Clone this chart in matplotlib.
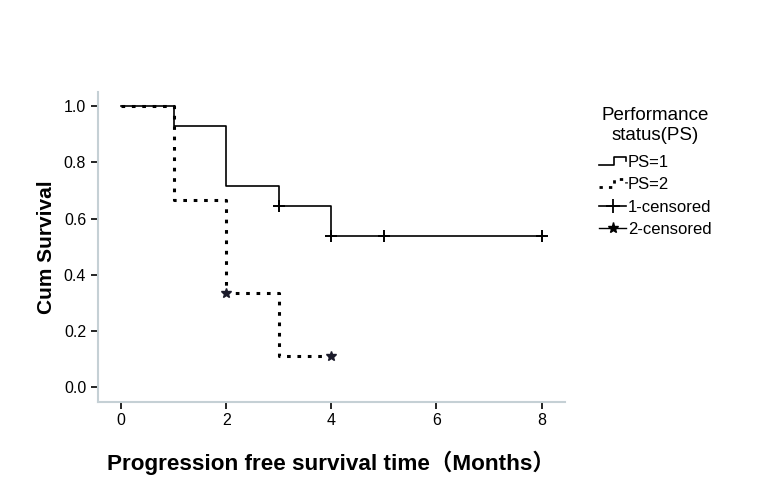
import matplotlib
matplotlib.use("Agg")
import matplotlib.pyplot as plt
from matplotlib.lines import Line2D
from matplotlib.legend_handler import HandlerBase

plt.rcParams['font.family'] = ['Liberation Sans', 'DejaVu Sans']

# Kaplan-Meier estimates
ps1_time = [0, 1, 2, 3, 4, 8]
ps1_surv = [1.0, 0.929, 0.714, 0.643, 0.536, 0.536]
ps1_cens_time = [3, 4, 5, 8]
ps1_cens_surv = [0.643, 0.536, 0.536, 0.536]

ps2_time = [0, 1, 2, 3, 4]
ps2_surv = [1.0, 0.667, 0.333, 0.111, 0.111]
ps2_cens_time = [2, 4]
ps2_cens_surv = [0.333, 0.111]

x_ticks = [0, 2, 4, 6, 8]
y_ticks = [0.0, 0.2, 0.4, 0.6, 0.8, 1.0]

dots = (0, (1.2, 2.2))


class StepHandler(HandlerBase):
    # little step-shaped legend key, like the SPSS one
    def __init__(self, ls, lw):
        super().__init__()
        self.ls = ls
        self.lw = lw

    def create_artists(self, legend, orig_handle, xdescent, ydescent,
                       width, height, fontsize, trans):
        x0 = -xdescent
        y0 = -ydescent
        xs = [x0, x0 + 0.55 * width, x0 + 0.55 * width, x0 + width,
              x0 + width]
        ys = [y0 + 0.15 * height, y0 + 0.15 * height, y0 + 0.85 * height,
              y0 + 0.85 * height, y0 + 0.5 * height]
        line = Line2D(xs, ys, color='black', lw=self.lw, ls=self.ls,
                      transform=trans)
        return [line]


fig = plt.figure(figsize=(7.6, 4.98), dpi=100)
ax = fig.add_axes([0.129, 0.193, 0.614, 0.622])

ax.step(ps1_time, ps1_surv, where='post', color='black', lw=1.2)
ax.step(ps2_time, ps2_surv, where='post', color='black', lw=2.2, ls=dots)
ax.plot(ps1_cens_time, ps1_cens_surv, ls='none', marker='+', ms=9,
        mew=1.4, color='black')
ax.plot(ps2_cens_time, ps2_cens_surv, ls='none', marker='*', ms=7,
        color='#1a1a2a')

ax.set_xlim(-0.44, 8.44)
ax.set_ylim(-0.053, 1.05)
ax.set_xticks(x_ticks)
ax.set_yticks(y_ticks)
ax.set_yticklabels([f'{v:.1f}' for v in y_ticks])
ax.tick_params(axis='both', direction='out', length=5, width=1.2,
               colors='black', labelsize=11.5)
ax.tick_params(axis='x', pad=3)

for side in ['top', 'right']:
    ax.spines[side].set_visible(False)
for side in ['left', 'bottom']:
    ax.spines[side].set_color('#c5d0d5')
    ax.spines[side].set_linewidth(1.5)

ax.set_ylabel('Cum Survival', fontsize=15, fontweight='bold', labelpad=6)
ax.set_xlabel('Progression free survival time\uff08Months\uff09',
              fontsize=16.2, fontweight='bold', labelpad=16,
              family=['Liberation Sans', 'Noto Sans CJK SC'])

ps1_key = Line2D([], [])
ps2_key = Line2D([], [])
handles = [
    ps1_key,
    ps2_key,
    Line2D([], [], color='black', lw=1.2, marker='+', ms=10, mew=1.3),
    Line2D([], [], color='black', lw=1.0, marker='*', ms=8),
]
labels = ['PS=1', 'PS=2', '1-censored', '2-censored']
leg = fig.legend(handles, labels, title='Performance\nstatus(PS)',
                 loc='upper left', bbox_to_anchor=(0.771, 0.812),
                 frameon=False, fontsize=12, title_fontsize=13.5,
                 handlelength=1.6, handletextpad=0.1, labelspacing=0.45,
                 borderpad=0.3,
                 handler_map={ps1_key: StepHandler('-', 1.2),
                              ps2_key: StepHandler(dots, 2.0)})
leg._legend_box.align = 'center'
leg._legend_box.sep = 8
leg.get_title().set_multialignment('center')

fig.savefig('out.png', dpi=100)
